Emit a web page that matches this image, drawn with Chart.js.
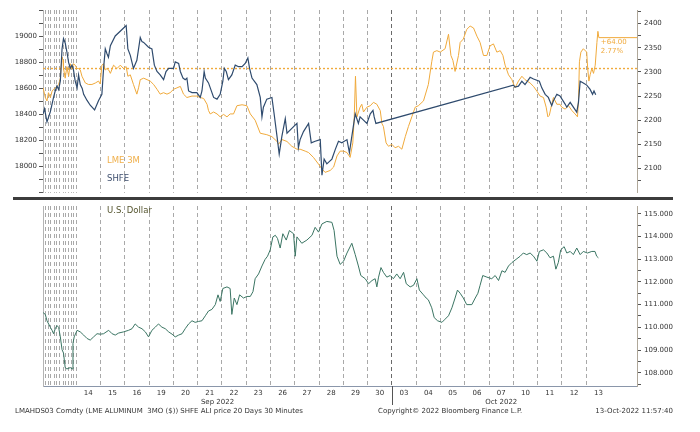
<!DOCTYPE html>
<html><head><meta charset="utf-8">
<script src="https://cdn.jsdelivr.net/npm/chart.js@4.4.1/dist/chart.umd.min.js"></script>
<style>
html,body{margin:0;padding:0;background:#fff}
body{width:700px;height:432px;overflow:hidden;position:relative;font-family:"DejaVu Sans",Verdana,sans-serif}
canvas{position:absolute;left:0}
#cTop{top:0}
#cBot{top:199px}
.sep{position:absolute;left:13px;top:197px;width:660px;height:3px;background:#3c3c3c}
.t{position:absolute;white-space:pre;line-height:10px}
</style></head><body>
<canvas id="cTop" width="700" height="200" style="width:700px;height:200px"></canvas>
<canvas id="cBot" width="700" height="233" style="width:700px;height:233px"></canvas>
<div class="sep"></div>
<div class="t" style="left:107px;top:155px;font-size:8.5px;color:#F0B04C">LME 3M</div>
<div class="t" style="left:107px;top:173px;font-size:8.5px;color:#3E4F6E">SHFE</div>
<div class="t" style="left:107px;top:205px;font-size:8.5px;color:#55552F">U.S. Dollar</div>
<div class="t" style="left:15px;top:406px;font-size:7px;color:#333">LMAHDS03 Comdty (LME ALUMINUM  3MO ($)) SHFE ALI price 20 Days 30 Minutes</div>
<div class="t" style="left:378px;top:406px;font-size:7px;color:#333">Copyright© 2022 Bloomberg Finance L.P.</div>
<div class="t" style="right:27px;top:406px;font-size:7px;color:#333">13-Oct-2022 11:57:40</div>
<script>
// ---- x axis: trading days (0 = Sep 14), fractional = intraday ----
const dayLabels = ['14','15','16','19','20','21','22','23','26','27','28','29','30','03','04','05','06','07','10','11','12','13'];
const monthLabels = ['Sep 2022','Oct 2022'];
const monthCenters = [5.82, 17.5];
const monthBoundary = 13;
const X_MIN = -1.364, X_MAX = 23.09;
const earlyGridDays = [-1.26,-1.15,-1.04,-0.90,-0.79,-0.68,-0.54,-0.43,-0.32,-0.21,-0.11];

// ---- SHFE (CNY, left axis) ----
const shfeDays = [-1.36,-1.30,-1.20,-1.06,-0.93,-0.86,-0.79,-0.72,-0.65,-0.58,-0.52,-0.45,-0.38,-0.31,-0.24,-0.17,-0.11,-0.04,0.04,0.10,0.17,0.25,0.31,0.45,0.58,0.76,0.92,1.06,1.13,1.20,1.27,1.33,1.41,1.61,1.89,2.06,2.13,2.23,2.36,2.50,2.64,2.71,2.78,2.98,3.12,3.22,3.33,3.46,3.60,3.70,3.81,4.01,4.08,4.22,4.29,4.40,4.49,4.56,4.63,4.77,4.97,5.11,5.18,5.27,5.32,5.45,5.66,5.80,5.93,6.04,6.10,6.18,6.27,6.41,6.55,6.69,6.83,6.96,7.07,7.14,7.24,7.44,7.58,7.65,7.71,7.85,8.06,8.15,8.27,8.36,8.47,8.61,8.68,8.88,9.09,9.15,9.22,9.36,9.57,9.68,9.84,10.05,10.12,10.21,10.32,10.53,10.67,10.80,10.94,11.15,11.25,11.35,11.49,11.62,11.69,11.83,11.97,12.11,12.22,12.27,12.34,18.00,18.07,18.21,18.35,18.48,18.69,18.83,19.07,19.17,19.31,19.44,19.58,19.65,19.79,19.92,20.13,20.20,20.34,20.47,20.61,20.68,20.75,20.88,21.02,21.16,21.26,21.32,21.39];
const shfeVals = [18404,18442,18342,18420,18530,18580,18619,18590,18657,18904,18984,18950,18882,18800,18754,18780,18742,18657,18604,18704,18629,18600,18554,18507,18470,18434,18505,18554,18754,18904,18867,18840,18929,19004,19054,19084,18904,18854,18754,18816,18992,18960,18954,18917,18904,18779,18730,18704,18667,18730,18754,18754,18804,18792,18730,18679,18667,18679,18580,18567,18567,18530,18580,18730,18679,18642,18530,18517,18554,18655,18754,18730,18667,18704,18779,18767,18767,18792,18834,18754,18679,18629,18530,18380,18455,18517,18530,18404,18230,18093,18230,18367,18255,18292,18330,18142,18205,18267,18330,18180,18192,18205,17930,18055,18018,18055,18130,18192,18180,18205,18105,18230,18404,18330,18380,18355,18330,18404,18430,18380,18330,18625,18610,18617,18655,18629,18685,18672,18655,18604,18554,18530,18467,18505,18554,18542,18479,18455,18492,18455,18417,18492,18655,18642,18625,18592,18554,18580,18550];

// ---- LME 3M (USD, right axis) ----
const lmeDays = [-1.36,-1.27,-1.20,-1.14,-1.06,-0.99,-0.93,-0.86,-0.79,-0.72,-0.65,-0.58,-0.54,-0.52,-0.45,-0.38,-0.31,-0.24,-0.17,-0.11,-0.04,0.04,0.10,0.17,0.24,0.38,0.51,0.65,0.79,0.92,0.99,1.06,1.13,1.20,1.27,1.34,1.41,1.54,1.68,1.82,1.95,2.06,2.13,2.23,2.36,2.50,2.57,2.64,2.78,2.92,3.05,3.19,3.33,3.46,3.60,3.74,3.87,4.01,4.15,4.29,4.42,4.56,4.77,4.97,5.11,5.25,5.39,5.45,5.52,5.66,5.80,5.93,6.07,6.21,6.34,6.48,6.62,6.83,7.03,7.17,7.37,7.58,7.85,8.06,8.27,8.33,8.47,8.68,8.88,9.09,9.22,9.43,9.57,9.77,9.98,10.12,10.25,10.46,10.60,10.74,10.87,11.01,11.15,11.28,11.39,11.45,11.50,11.56,11.69,11.76,11.83,11.97,12.11,12.24,12.38,12.52,12.59,12.65,12.76,12.86,13.00,13.13,13.27,13.41,13.55,13.68,13.82,13.96,14.09,14.30,14.50,14.64,14.71,14.85,14.99,15.19,15.33,15.43,15.51,15.60,15.74,15.81,15.94,16.08,16.22,16.36,16.50,16.63,16.77,16.91,17.04,17.18,17.32,17.46,17.57,17.66,17.80,17.94,18.07,18.21,18.35,18.48,18.69,18.83,18.97,19.10,19.24,19.35,19.42,19.48,19.58,19.65,19.79,19.92,19.99,20.13,20.27,20.41,20.54,20.64,20.68,20.72,20.78,20.88,21.02,21.06,21.11,21.16,21.23,21.30,21.37,21.44,21.48,21.52];
const lmeVals = [2267,2247,2240,2257,2247,2260,2264,2267,2270,2274,2287,2331,2324,2307,2287,2311,2291,2317,2307,2317,2314,2307,2307,2304,2291,2277,2274,2274,2277,2281,2275,2314,2317,2304,2307,2304,2297,2314,2307,2314,2307,2311,2291,2294,2274,2254,2267,2284,2287,2284,2281,2274,2264,2254,2257,2254,2257,2264,2267,2270,2254,2247,2250,2250,2247,2245,2233,2220,2213,2217,2213,2207,2212,2207,2213,2213,2230,2232,2230,2213,2200,2173,2170,2166,2156,2150,2160,2156,2146,2140,2140,2136,2133,2123,2109,2099,2092,2096,2103,2126,2136,2136,2133,2123,2153,2207,2291,2207,2227,2233,2217,2227,2230,2237,2233,2220,2193,2187,2153,2146,2150,2143,2146,2140,2166,2187,2207,2227,2230,2240,2274,2321,2341,2344,2341,2348,2378,2334,2324,2301,2334,2361,2368,2388,2395,2391,2374,2361,2334,2334,2354,2358,2341,2344,2334,2314,2294,2284,2267,2281,2291,2284,2277,2270,2260,2250,2247,2227,2207,2210,2233,2247,2233,2233,2227,2223,2230,2220,2213,2207,2240,2321,2341,2348,2341,2307,2281,2294,2307,2297,2314,2361,2384,2371];
const lmeRef = 2307;
const lmeChangeText = ['+64.00','2.77%'];

// ---- U.S. Dollar index (lower panel) ----
const usdDays = [-1.36,-1.27,-1.20,-1.06,-0.99,-0.93,-0.86,-0.79,-0.72,-0.65,-0.58,-0.52,-0.45,-0.38,-0.24,-0.17,-0.13,-0.08,0.04,0.17,0.31,0.45,0.58,0.72,0.86,0.99,1.13,1.34,1.48,1.61,1.75,1.95,2.16,2.30,2.43,2.57,2.71,2.85,2.98,3.12,3.26,3.39,3.53,3.67,3.81,3.95,4.08,4.22,4.36,4.49,4.63,4.77,4.90,5.04,5.18,5.32,5.45,5.59,5.73,5.84,5.93,6.04,6.21,6.34,6.41,6.51,6.62,6.73,6.89,7.03,7.17,7.28,7.37,7.51,7.65,7.78,7.88,7.99,8.10,8.20,8.29,8.40,8.51,8.65,8.78,8.95,9.02,9.09,9.29,9.50,9.71,9.84,9.98,10.12,10.32,10.53,10.62,10.74,10.87,11.01,11.15,11.35,11.49,11.62,11.72,11.90,12.04,12.18,12.31,12.38,12.45,12.55,12.65,12.79,12.93,13.06,13.20,13.34,13.48,13.59,13.75,13.89,14.03,14.13,14.30,14.41,14.50,14.64,14.74,14.88,15.06,15.19,15.33,15.47,15.60,15.70,15.81,15.94,16.08,16.29,16.43,16.54,16.63,16.74,16.91,17.11,17.25,17.39,17.53,17.66,17.80,17.94,18.11,18.28,18.41,18.55,18.69,18.83,18.97,19.07,19.24,19.38,19.51,19.65,19.75,19.85,19.95,20.09,20.20,20.34,20.47,20.61,20.75,20.88,21.05,21.23,21.36,21.43,21.50];
const usdVals = [110.65,110.57,110.29,110.00,109.87,109.72,109.94,110.08,110.00,109.58,109.02,108.87,108.23,108.17,108.23,108.17,109.30,109.58,109.87,109.80,109.66,109.51,109.44,109.58,109.72,109.70,109.72,109.87,109.72,109.66,109.75,109.80,109.87,109.94,110.15,110.01,109.94,109.80,109.58,109.87,110.01,110.15,110.01,109.94,109.80,109.70,109.58,109.66,109.72,109.94,110.15,110.29,110.22,110.26,110.29,110.51,110.72,110.79,111.00,111.43,111.14,111.71,111.78,111.71,110.57,111.29,111.00,111.43,111.29,111.36,111.36,111.57,112.14,112.35,112.70,112.99,113.13,113.41,113.98,114.05,113.91,113.49,114.12,113.84,114.26,114.12,113.13,113.98,113.70,113.84,114.05,114.40,114.19,114.55,114.66,114.62,114.26,113.13,112.77,112.91,113.27,113.70,113.20,112.70,112.28,112.14,111.92,112.06,112.14,111.78,112.21,112.63,112.42,112.21,112.28,112.14,112.35,112.14,112.42,111.92,111.78,111.85,112.14,111.64,111.43,111.29,111.21,110.86,110.43,110.29,110.22,110.36,110.51,110.86,111.29,111.64,111.50,111.29,111.00,111.00,111.29,111.50,111.85,112.28,112.21,112.14,112.28,112.06,112.49,112.42,112.70,112.85,112.99,113.13,113.27,113.20,113.27,113.13,112.91,113.34,113.41,113.27,113.06,113.13,112.56,112.85,113.41,113.55,113.27,113.34,113.20,113.49,113.20,113.34,113.27,113.34,113.34,113.13,113.06];

// ---- axis ticks ----
const shfeTicks = [17800,17900,18000,18100,18200,18300,18400,18500,18600,18700,18800,18900,19000,19100,19200];
const shfeLabelled = [18000,18200,18400,18600,18800,19000];
const lmeTicks = [2075,2100,2125,2150,2175,2200,2225,2250,2275,2300,2325,2350,2375,2400,2425];
const usdTicks = [107.5,108,108.5,109,109.5,110,110.5,111,111.5,112,112.5,113,113.5,114,114.5,115];

const LME_C = '#F0AA3C', SHFE_C = '#2F4B6E', USD_C = '#3B7563';
const FONT = 'DejaVu Sans';
Chart.defaults.font.family = FONT;
Chart.defaults.font.size = 7;
Chart.defaults.color = '#333';

const zip = (xs, ys) => xs.map((x, i) => ({x, y: ys[i]}));
const dayBoundaries = earlyGridDays.concat(dayLabels.map((_, i) => i));
const gridColor = ctx => (ctx.tick && ctx.tick.value === monthBoundary) ? '#6a6a6a' : '#a9a9a9';

function gridX() {
  return {
    type: 'linear', position: 'top', min: X_MIN, max: X_MAX,
    afterBuildTicks: s => { s.ticks = dayBoundaries.map(v => ({value: v})); },
    afterFit: s => { s.height = 0; },
    ticks: {display: false},
    grid: {color: gridColor, lineWidth: 1, drawTicks: false},
    border: {display: false, dash: [4, 3]}
  };
}

const lastX = lmeDays[lmeDays.length - 1], lastV = lmeVals[lmeVals.length - 1];

const changeLabelPlugin = {
  id: 'changeLabel',
  afterDatasetsDraw(chart) {
    const {ctx, scales} = chart;
    const px = scales.x.getPixelForValue(lastX) + 2;
    const py = scales.yR.getPixelForValue(lastV);
    ctx.save();
    ctx.fillStyle = LME_C;
    ctx.font = '7px "' + FONT + '"';
    ctx.textBaseline = 'middle';
    ctx.fillText(lmeChangeText[0], px, py + 5);
    ctx.fillText(lmeChangeText[1], px, py + 14);
    ctx.restore();
  }
};

new Chart(document.getElementById('cTop'), {
  type: 'line',
  data: {datasets: [
    {label: 'SHFE', data: zip(shfeDays, shfeVals), yAxisID: 'yL', borderColor: SHFE_C, borderWidth: 1.2},
    {label: 'LME 3M', data: zip(lmeDays, lmeVals), yAxisID: 'yR', borderColor: LME_C, borderWidth: 1},
    {label: 'last', data: [{x: lastX, y: lastV}, {x: X_MAX, y: lastV}], yAxisID: 'yR', borderColor: LME_C, borderWidth: 1},
    {label: 'ref', data: [{x: X_MIN, y: lmeRef}, {x: X_MAX, y: lmeRef}], yAxisID: 'yR', borderColor: LME_C, borderWidth: 1.4, borderDash: [2, 2]}
  ]},
  options: {
    responsive: false, animation: false, devicePixelRatio: 1,
    layout: {padding: {top: 10, bottom: 2, left: 0, right: 0}},
    elements: {point: {radius: 0}, line: {tension: 0}},
    plugins: {legend: {display: false}, tooltip: {enabled: false}},
    scales: {
      x: gridX(),
      yL: {
        position: 'left', min: 17795, max: 19204,
        afterBuildTicks: s => { s.ticks = shfeTicks.map(v => ({value: v})); },
        afterFit: s => { s.width = 43; },
        ticks: {callback: v => (shfeLabelled.includes(v) ? String(v) : ''), padding: 2, color: '#333'},
        grid: {drawOnChartArea: false, tickLength: 4, color: '#555'},
        border: {color: '#b4b4b4'}
      },
      yR: {
        position: 'right', min: 2049.7, max: 2428.2,
        afterBuildTicks: s => { s.ticks = lmeTicks.map(v => ({value: v})); },
        afterFit: s => { s.width = 63; },
        ticks: {callback: v => (v % 50 === 0 ? String(v) : ''), padding: 3, color: '#333'},
        grid: {drawOnChartArea: false, tickLength: 4, color: '#555'},
        border: {color: '#b0a89a'}
      }
    }
  },
  plugins: [changeLabelPlugin]
});

const monthLinePlugin = {
  id: 'monthLine',
  afterDraw(chart) {
    const {ctx, scales, chartArea} = chart;
    const px = Math.round(scales.x.getPixelForValue(monthBoundary)) + 0.5;
    ctx.save();
    ctx.strokeStyle = '#555';
    ctx.lineWidth = 1;
    ctx.beginPath();
    ctx.moveTo(px, chartArea.bottom);
    ctx.lineTo(px, chartArea.bottom + 19);
    ctx.stroke();
    ctx.restore();
  }
};

const dayCenters = dayLabels.map((_, i) => i + 0.5);
const labelTicks = Array.from(new Set(dayCenters.concat(monthCenters))).sort((a, b) => a - b);
function labelFor(v) {
  const m = monthCenters.indexOf(v);
  const d = dayCenters.indexOf(v);
  if (m >= 0) return [d >= 0 ? dayLabels[d] : '', monthLabels[m]];
  return dayLabels[d];
}

new Chart(document.getElementById('cBot'), {
  type: 'line',
  data: {datasets: [
    {label: 'U.S. Dollar', data: zip(usdDays, usdVals), yAxisID: 'yU', borderColor: USD_C, borderWidth: 1}
  ]},
  options: {
    responsive: false, animation: false, devicePixelRatio: 1,
    layout: {padding: {top: 1, bottom: 0, left: 0, right: 0}},
    elements: {point: {radius: 0}, line: {tension: 0}},
    plugins: {legend: {display: false}, tooltip: {enabled: false}},
    scales: {
      x: gridX(),
      xl: {
        type: 'linear', position: 'bottom', min: X_MIN, max: X_MAX,
        afterBuildTicks: s => { s.ticks = labelTicks.map(v => ({value: v})); },
        afterFit: s => { s.height = 46; },
        ticks: {callback: v => labelFor(v), autoSkip: false, maxRotation: 0, minRotation: 0, padding: 3, color: '#333', font: {lineHeight: 1.25}},
        grid: {display: false, drawTicks: false, tickLength: 0},
        border: {color: '#8a96aa'}
      },
      yl: {
        position: 'left', min: 0, max: 1,
        afterFit: s => { s.width = 43; },
        ticks: {display: false},
        grid: {display: false},
        border: {color: '#b4b4b4'}
      },
      yU: {
        position: 'right', min: 107.42, max: 115.33,
        afterBuildTicks: s => { s.ticks = usdTicks.map(v => ({value: v})); },
        afterFit: s => { s.width = 63; },
        ticks: {callback: v => (Number.isInteger(v) ? v.toFixed(3) : ''), padding: 3, color: '#333'},
        grid: {drawOnChartArea: false, tickLength: 4, color: '#555'},
        border: {color: '#b0a89a'}
      }
    }
  },
  plugins: [monthLinePlugin]
});
</script>
</body></html>
